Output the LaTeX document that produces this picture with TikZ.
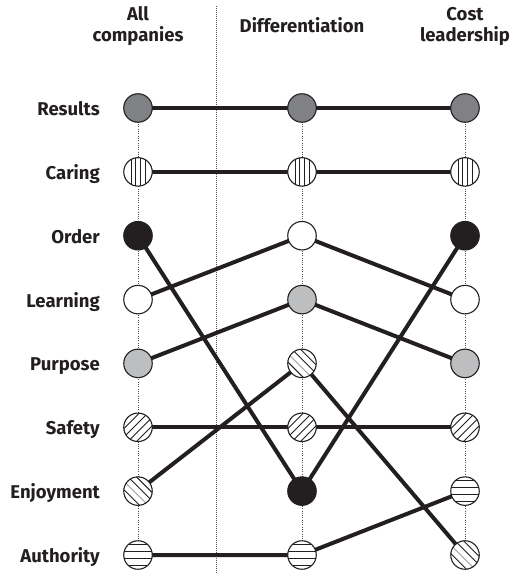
\documentclass[tikz,border=0pt]{standalone}
\usepackage{fontspec}
\setmainfont{Fira Sans}
\usetikzlibrary{backgrounds}
\definecolor{ink}{HTML}{231F20}
\definecolor{resgray}{HTML}{808184}
\definecolor{purgray}{HTML}{BCBEC0}
\definecolor{stgray}{HTML}{9E9E9E}
\definecolor{dotgray}{HTML}{505050}
\tikzset{
  val/.style={circle, draw=ink, line width=1.1pt, minimum size=28.5pt, inner sep=0pt, fill=white},
  stripe/.style={ink, line width=0.9pt},
  vResults/.style={val, fill=resgray},
  vOrder/.style={val, fill=ink},
  vLearning/.style={val},
  vPurpose/.style={val, fill=purgray},
  vCaring/.style={val, path picture={
    \foreach \d in {-7,-2.35,2.35,7}{
      \draw[stripe] ([xshift=\d pt]path picture bounding box.north) -- ([xshift=\d pt]path picture bounding box.south);}}},
  vAuthority/.style={val, path picture={
    \foreach \d in {-10.5,-3.5,3.5,10.5}{
      \draw[stripe] ([yshift=\d pt]path picture bounding box.west) -- ([yshift=\d pt]path picture bounding box.east);}}},
  vSafety/.style={val, path picture={
    \foreach \d in {-9,-3,3,9}{
      \draw[stripe, shift={(path picture bounding box.center)}]
        ({(0.7071*\d-20)*1pt},{(-0.7071*\d-20)*1pt}) -- ({(0.7071*\d+20)*1pt},{(-0.7071*\d+20)*1pt});}}},
  vEnjoyment/.style={val, path picture={
    \foreach \d/\c in {-9/ink,-3/stgray,3/ink,9/ink}{
      \draw[stripe, draw=\c, shift={(path picture bounding box.center)}]
        ({(0.7071*\d-20)*1pt},{(0.7071*\d+20)*1pt}) -- ({(0.7071*\d+20)*1pt},{(0.7071*\d-20)*1pt});}}},
  conn/.style={ink, line width=4pt},
  coldot/.style={dotgray, line width=0.6pt, dash pattern=on 0.7pt off 1.6pt},
  sepdot/.style={dotgray, line width=0.6pt, dash pattern=on 0.7pt off 1.3pt},
  rowlab/.style={anchor=base east, inner sep=0pt, text=ink, font=\fontsize{18.5}{22}\selectfont\bfseries},
  headlab/.style={anchor=base, inner sep=0pt, text=ink, font=\fontsize{18.5}{22}\selectfont\bfseries},
}
\begin{document}
\begin{tikzpicture}[x=1pt, y=-1pt]
\useasboundingbox (0,0) rectangle (514,573);
\def\ra{108}\def\rb{171.9}\def\rc{235.7}\def\rd{299.6}
\def\re{363.4}\def\rf{427.3}\def\rg{491.1}\def\rh{555}
\def\xa{138}\def\xd{302}\def\xc{465}
% headers
\node[headlab] (hAll) at (\xa,20) {All};
\node[headlab] (hComp) at (\xa,41) {companies};
\node[headlab] (hDiff) at (\xd,32) {Differentiation};
\node[headlab] (hCost) at (\xc,20) {Cost};
\node[headlab] (hLead) at (\xc,41) {leadership};
% row labels
\node[rowlab] (lResults) at (100,\ra+7.5) {Results};
\node[rowlab] (lCaring) at (100,\rb+7.5) {Caring};
\node[rowlab] (lOrder) at (100,\rc+7.5) {Order};
\node[rowlab] (lLearning) at (100,\rd+7.5) {Learning};
\node[rowlab] (lPurpose) at (100,\re+7.5) {Purpose};
\node[rowlab] (lSafety) at (100,\rf+7.5) {Safety};
\node[rowlab] (lEnjoyment) at (100,\rg+7.5) {Enjoyment};
\node[rowlab] (lAuthority) at (100,\rh+7.5) {Authority};
% All companies
\node[vResults] (aResults) at (\xa,\ra) {};
\node[vCaring] (aCaring) at (\xa,\rb) {};
\node[vOrder] (aOrder) at (\xa,\rc) {};
\node[vLearning] (aLearning) at (\xa,\rd) {};
\node[vPurpose] (aPurpose) at (\xa,\re) {};
\node[vSafety] (aSafety) at (\xa,\rf) {};
\node[vEnjoyment] (aEnjoyment) at (\xa,\rg) {};
\node[vAuthority] (aAuthority) at (\xa,\rh) {};
% Differentiation
\node[vResults] (dResults) at (\xd,\ra) {};
\node[vCaring] (dCaring) at (\xd,\rb) {};
\node[vLearning] (dLearning) at (\xd,\rc) {};
\node[vPurpose] (dPurpose) at (\xd,\rd) {};
\node[vEnjoyment] (dEnjoyment) at (\xd,\re) {};
\node[vSafety] (dSafety) at (\xd,\rf) {};
\node[vOrder] (dOrder) at (\xd,\rg) {};
\node[vAuthority] (dAuthority) at (\xd,\rh) {};
% Cost leadership
\node[vResults] (cResults) at (\xc,\ra) {};
\node[vCaring] (cCaring) at (\xc,\rb) {};
\node[vOrder] (cOrder) at (\xc,\rc) {};
\node[vLearning] (cLearning) at (\xc,\rd) {};
\node[vPurpose] (cPurpose) at (\xc,\re) {};
\node[vSafety] (cSafety) at (\xc,\rf) {};
\node[vAuthority] (cAuthority) at (\xc,\rg) {};
\node[vEnjoyment] (cEnjoyment) at (\xc,\rh) {};
\coordinate (septop) at (216,6);
\coordinate (sepbot) at (216,573);
\begin{pgfonlayer}{background}
  \draw[sepdot] (septop) -- (sepbot);
  \draw[coldot] (aResults.center) -- (aAuthority.center);
  \draw[coldot] (dResults.center) -- (dAuthority.center);
  \draw[coldot] (cResults.center) -- (cEnjoyment.center);
  \foreach \v in {Results,Caring,Order,Learning,Purpose,Safety,Enjoyment,Authority}{
    \draw[conn] (a\v.center) -- (d\v.center) -- (c\v.center);}
\end{pgfonlayer}
\end{tikzpicture}
\end{document}
